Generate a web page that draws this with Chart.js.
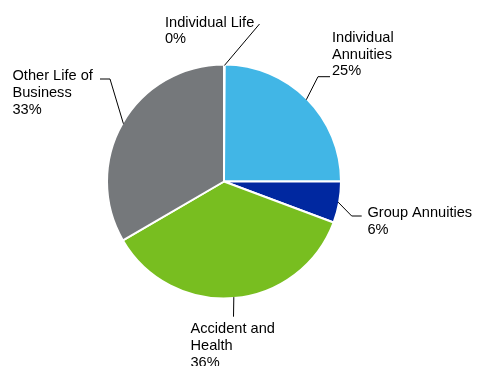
<!DOCTYPE html>
<html>
<head>
<meta charset="utf-8">
<script src="https://cdn.jsdelivr.net/npm/chart.js@4/dist/chart.umd.min.js"></script>
<style>
  html, body { margin: 0; padding: 0; background: #ffffff; }
  #wrap { width: 478px; height: 366px; position: relative; }
</style>
</head>
<body>
<div id="wrap"><canvas id="c" width="478" height="366"></canvas></div>
<script>
// ---- data ----
const categories = ['Individual Life', 'Individual Annuities', 'Group Annuities', 'Accident and Health', 'Other Life of Business'];
const values = [0.1, 24.9, 5.7, 35.9, 33.4];
const percentLabels = ['0%', '25%', '6%', '36%', '33%'];
const colors = ['#41b6e6', '#41b6e6', '#0028a0', '#78be20', '#75787b'];

// ---- label layout (positions only, not data) ----
const labelLayout = [
  { lines: ['Individual Life'], x: 165, y: 26.5, path: [[259.5, 24]] },
  { lines: ['Individual', 'Annuities'], x: 332, y: 41.7, path: [[318, 76.7], [330, 76.7]] },
  { lines: ['Group Annuities'], x: 367.5, y: 216.8, path: [[351.7, 216], [361.7, 216]] },
  { lines: ['Accident and', 'Health'], x: 190.5, y: 333.3, path: [[233.5, 316.7]] },
  { lines: ['Other Life of', 'Business'], x: 12.5, y: 80.3, path: [[110, 79], [100, 79]] }
];
const lineHeight = 16.8;

const labelPlugin = {
  id: 'pieLabels',
  afterDatasetsDraw(chart) {
    const ctx = chart.ctx;
    const meta = chart.getDatasetMeta(0);
    ctx.save();
    ctx.strokeStyle = '#000000';
    ctx.lineWidth = 1;
    ctx.fillStyle = '#000000';
    ctx.font = '14.6px "Liberation Sans", Arial, sans-serif';
    ctx.textBaseline = 'alphabetic';
    ctx.textAlign = 'left';
    meta.data.forEach((arc, i) => {
      const p = arc.getProps(['x', 'y', 'startAngle', 'endAngle', 'outerRadius'], true);
      const mid = (p.startAngle + p.endAngle) / 2;
      const r = p.outerRadius - 1;
      const sx = p.x + Math.cos(mid) * r;
      const sy = p.y + Math.sin(mid) * r;
      const lay = labelLayout[i];
      ctx.beginPath();
      ctx.moveTo(sx, sy);
      lay.path.forEach(pt => ctx.lineTo(pt[0], pt[1]));
      ctx.stroke();
      const lines = lay.lines.concat([percentLabels[i]]);
      lines.forEach((t, k) => ctx.fillText(t, lay.x, lay.y + k * lineHeight));
    });
    ctx.restore();
  }
};

new Chart(document.getElementById('c'), {
  type: 'pie',
  data: {
    labels: categories,
    datasets: [{
      data: values,
      backgroundColor: colors,
      borderColor: '#ffffff',
      borderWidth: 2
    }]
  },
  options: {
    responsive: false,
    devicePixelRatio: 1,
    animation: false,
    radius: 117,
    layout: { padding: { left: 0, right: 30, top: 0, bottom: 3 } },
    plugins: {
      legend: { display: false },
      tooltip: { enabled: false }
    }
  },
  plugins: [labelPlugin]
});
</script>
</body>
</html>
